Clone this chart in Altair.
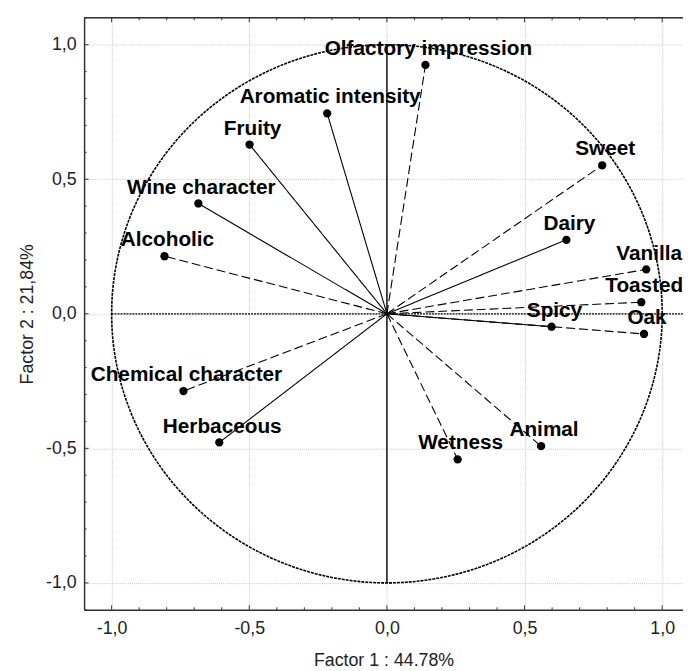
import altair as alt
import numpy as np
import pandas as pd

variables = ["Olfactory impression", "Aromatic intensity", "Fruity", "Wine character",
             "Alcoholic", "Chemical character", "Herbaceous", "Wetness", "Animal",
             "Sweet", "Dairy", "Vanilla", "Toasted", "Spicy", "Oak"]
factor1 = [0.140, -0.217, -0.499, -0.685, -0.808, -0.739, -0.609, 0.257, 0.560,
           0.782, 0.652, 0.942, 0.924, 0.598, 0.934]
factor2 = [0.925, 0.745, 0.629, 0.410, 0.214, -0.287, -0.478, -0.541, -0.492,
           0.552, 0.275, 0.165, 0.043, -0.048, -0.075]
line_style = ["dashed", "solid", "solid", "solid", "dashed", "dashed", "solid", "dashed",
              "dashed", "dashed", "solid", "dashed", "dashed", "solid", "dashed"]

major_ticks = [-1.0, -0.5, 0.0, 0.5, 1.0]
minor_ticks_x = [-0.9, -0.8, -0.7, -0.6, -0.4, -0.3, -0.2, -0.1,
                 0.1, 0.2, 0.3, 0.4, 0.6, 0.7, 0.8, 0.9]
minor_ticks_y = [-1.1, -0.9, -0.8, -0.7, -0.6, -0.4, -0.3, -0.2, -0.1,
                 0.1, 0.2, 0.3, 0.4, 0.6, 0.7, 0.8, 0.9, 1.1]

x_title = "Factor 1 : 44.78%"
y_title = "Factor 2 : 21,84%"

W, H = 606, 599
FONT = "Liberation Sans"

df = pd.DataFrame({"f1": factor1, "f2": factor2, "var": variables, "style": line_style,
                   "x0": 0.0, "y0": 0.0})

# unit circle (reference geometry)
ang = np.linspace(0, 2 * np.pi, 361)
circle = pd.DataFrame({"cx": np.cos(ang), "cy": np.sin(ang), "o": np.arange(361)})

xscale = alt.Scale(domain=[-1.1, 1.0755], nice=False, zero=False)
yscale = alt.Scale(domain=[-1.1, 1.1], nice=False, zero=False)

fmt = "replace(replace(format(datum.value, '.1f'), '.', ','), '\u2212', '-')"

base_x = alt.X("cx:Q", scale=xscale, title=x_title,
               axis=alt.Axis(values=major_ticks, labelExpr=fmt, tickSize=0,
                             labelPadding=10, titlePadding=14, grid=True,
                             gridColor="#c8c8c8", gridDash=[1, 1], gridWidth=1,
                             domainColor="#333333", domainWidth=1.5,
                             labelFont=FONT, labelFontSize=18, labelColor="#222",
                             titleFont=FONT, titleFontSize=18, titleFontWeight="normal",
                             titleColor="#222"))
base_y = alt.Y("cy:Q", scale=yscale, title=y_title,
               axis=alt.Axis(values=major_ticks, labelExpr=fmt, tickSize=0,
                             labelPadding=8, titlePadding=9, grid=True,
                             gridColor="#c8c8c8", gridDash=[1, 1], gridWidth=1,
                             domainColor="#333333", domainWidth=1.5,
                             labelFont=FONT, labelFontSize=18, labelColor="#222",
                             titleFont=FONT, titleFontSize=18, titleFontWeight="normal",
                             titleColor="#222"))

circle_layer = alt.Chart(circle).mark_line(
    color="black", strokeWidth=1.6, strokeDash=[3, 1]
).encode(x=base_x, y=base_y, order="o:Q")

vline = alt.Chart(df.head(1)).mark_rule(color="black", strokeWidth=1.4).encode(
    x=alt.datum(0.0), y=alt.datum(-1.0), y2=alt.datum(1.0))
hline = alt.Chart(df.head(1)).mark_rule(color="black", strokeWidth=1.3, strokeDash=[2, 1]).encode(
    y=alt.datum(0.0), x=alt.datum(-1.0), x2=alt.value(W))

top_line = alt.Chart(df.head(1)).mark_rule(color="#333333", strokeWidth=1.5).encode(
    x=alt.value(0), x2=alt.value(W), y=alt.value(0))

tick_layers = []
for vals, ln in [(major_ticks, 4.5), (minor_ticks_x, 2.5)]:
    tdf = pd.DataFrame({"t": vals})
    tick_layers.append(alt.Chart(tdf).mark_rule(color="#333333", strokeWidth=1).encode(
        x=alt.X("t:Q", scale=xscale), y=alt.value(H), y2=alt.value(H - ln)))
    tick_layers.append(alt.Chart(tdf).mark_rule(color="#333333", strokeWidth=1).encode(
        x=alt.X("t:Q", scale=xscale), y=alt.value(0), y2=alt.value(ln)))
for vals, ln in [(major_ticks, 4.5), (minor_ticks_y, 2.5)]:
    tdf = pd.DataFrame({"t": vals})
    tick_layers.append(alt.Chart(tdf).mark_rule(color="#333333", strokeWidth=1).encode(
        y=alt.Y("t:Q", scale=yscale), x=alt.value(0), x2=alt.value(ln)))

vectors = alt.Chart(df).mark_rule(color="black", strokeWidth=1.1).encode(
    x=alt.X("x0:Q", scale=xscale), y=alt.Y("y0:Q", scale=yscale),
    x2="f1:Q", y2="f2:Q",
    strokeDash=alt.StrokeDash("style:N", scale=alt.Scale(domain=["solid", "dashed"],
                                                          range=[[1, 0], [9, 4]]),
                              legend=None))

points = alt.Chart(df).mark_circle(color="black", size=70, opacity=1).encode(
    x=alt.X("f1:Q", scale=xscale), y=alt.Y("f2:Q", scale=yscale))

labels = alt.Chart(df).mark_text(
    font=FONT, fontSize=21, fontWeight="bold", color="black", align="center",
    baseline="alphabetic", dx=3, dy=-10, clip=True
).encode(x=alt.X("f1:Q", scale=xscale), y=alt.Y("f2:Q", scale=yscale), text="var:N")

chart = alt.layer(
    circle_layer, hline, vline, top_line, *tick_layers, vectors, points, labels
).properties(
    width=W, height=H,
    padding={"left": 77, "top": 6, "right": 0, "bottom": 57},
    autosize=alt.AutoSizeParams(type="none")
).configure_view(stroke=None).configure(background="white")

chart.save("out.html", embed_options={"renderer": "svg", "actions": False})
